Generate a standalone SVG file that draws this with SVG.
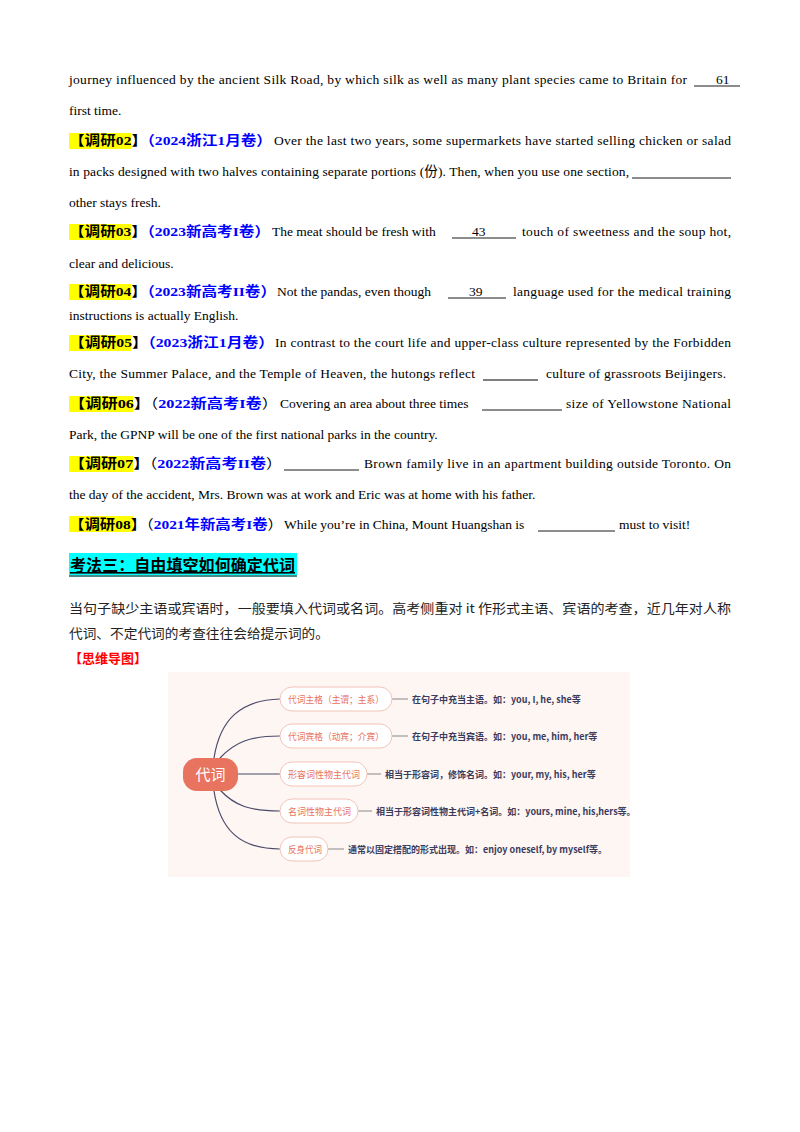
<svg xmlns="http://www.w3.org/2000/svg" width="800" height="1132" viewBox="0 0 800 1132">
<style>
.t{font-family:"Liberation Serif","Noto Sans CJK SC",serif;font-size:13.5px;fill:#000}
.k{font-family:"Liberation Serif","Noto Sans CJK SC",serif;font-size:13.5px;font-weight:bold}
.hl{fill:#ffff00}
.b{fill:#0000ff}
.n{fill:#000;font-weight:normal}
.u{stroke:#000;stroke-width:0.9}
.cn{font-family:"Noto Sans CJK SC",sans-serif;font-size:13px;fill:#222}
.pill{fill:#fff;stroke:#f3c4b8;stroke-width:1}
.pt{font-family:"Noto Sans CJK SC",sans-serif;font-size:9.5px;fill:#e8735f}
.dt{font-family:"Noto Sans CJK SC",sans-serif;font-size:9px;font-weight:bold;fill:#3b3b5c}
.ln{fill:none;stroke:#4a4a6a;stroke-width:1.2}
.sh{stroke:#888;stroke-width:1}
</style>
<rect width="800" height="1132" fill="#fff"/>
<g id="text-body">
<text class="t" x="69" y="84" textLength="618" lengthAdjust="spacing">journey influenced by the ancient Silk Road, by which silk as well as many plant species came to Britain for</text>
<line class="u" x1="694" y1="86" x2="740" y2="86"/>
<text class="t" x="716" y="84">61</text>
<text class="t" x="69" y="115">first time.</text>

<rect class="hl" x="69" y="133" width="62" height="16"/>
<text class="k" x="69" y="145" textLength="203" lengthAdjust="spacingAndGlyphs"><tspan>【调研02】</tspan><tspan class="b">（2024浙江1月卷）</tspan></text>
<text class="t" x="274" y="145" textLength="457" lengthAdjust="spacing">Over the last two years, some supermarkets have started selling chicken or salad</text>
<text class="t" x="69" y="176" textLength="560" lengthAdjust="spacing">in packs designed with two halves containing separate portions (份). Then, when you use one section,</text>
<line class="u" x1="632" y1="178" x2="731" y2="178"/>
<text class="t" x="69" y="207">other stays fresh.</text>

<rect class="hl" x="69" y="224" width="62" height="16"/>
<text class="k" x="69" y="236" textLength="201" lengthAdjust="spacingAndGlyphs"><tspan>【调研03】</tspan><tspan class="b">（2023新高考I卷）</tspan></text>
<text class="t" x="272" y="236">The meat should be fresh with</text>
<line class="u" x1="452" y1="238" x2="516" y2="238"/>
<text class="t" x="472" y="236">43</text>
<text class="t" x="522" y="236" textLength="209" lengthAdjust="spacing">touch of sweetness and the soup hot,</text>
<text class="t" x="69" y="268">clear and delicious.</text>

<rect class="hl" x="69" y="284" width="62" height="16"/>
<text class="k" x="69" y="296" textLength="207" lengthAdjust="spacingAndGlyphs"><tspan>【调研04】</tspan><tspan class="b">（2023新高考II卷）</tspan></text>
<text class="t" x="277" y="296">Not the pandas, even though</text>
<line class="u" x1="448" y1="298" x2="506" y2="298"/>
<text class="t" x="469" y="296">39</text>
<text class="t" x="513" y="296" textLength="218" lengthAdjust="spacing">language used for the medical training</text>
<text class="t" x="69" y="320">instructions is actually English.</text>

<rect class="hl" x="69" y="335" width="62" height="16"/>
<text class="k" x="69" y="347" textLength="205" lengthAdjust="spacingAndGlyphs"><tspan>【调研05】</tspan><tspan class="b">（2023浙江1月卷）</tspan></text>
<text class="t" x="275" y="347" textLength="456" lengthAdjust="spacing">In contrast to the court life and upper-class culture represented by the Forbidden</text>
<text class="t" x="69" y="378" textLength="406" lengthAdjust="spacing">City, the Summer Palace, and the Temple of Heaven, the hutongs reflect</text>
<line x1="483" y1="380" x2="538" y2="380" stroke="#000" stroke-width="1.2"/>
<text class="t" x="546" y="378" textLength="180" lengthAdjust="spacing">culture of grassroots Beijingers.</text>

<rect class="hl" x="69" y="396" width="64" height="16"/>
<text class="k" x="69" y="408" textLength="209" lengthAdjust="spacingAndGlyphs"><tspan>【调研06】</tspan><tspan class="n">（</tspan><tspan class="b">2022新高考I卷</tspan><tspan class="n">）</tspan></text>
<text class="t" x="280" y="408">Covering an area about three times</text>
<line class="u" x1="482" y1="410" x2="562" y2="410"/>
<text class="t" x="566" y="408" textLength="165" lengthAdjust="spacing">size of Yellowstone National</text>
<text class="t" x="69" y="439">Park, the GPNP will be one of the first national parks in the country.</text>

<rect class="hl" x="69" y="456" width="64" height="16"/>
<text class="k" x="69" y="468" textLength="213" lengthAdjust="spacingAndGlyphs"><tspan>【调研07】</tspan><tspan class="n">（</tspan><tspan class="b">2022新高考II卷</tspan><tspan class="n">）</tspan></text>
<line class="u" x1="284" y1="470" x2="359" y2="470"/>
<text class="t" x="364" y="468" textLength="367" lengthAdjust="spacing">Brown family live in an apartment building outside Toronto. On</text>
<text class="t" x="69" y="499">the day of the accident, Mrs. Brown was at work and Eric was at home with his father.</text>

<rect class="hl" x="69" y="516" width="64" height="16"/>
<text class="k" x="69" y="529" textLength="214" lengthAdjust="spacingAndGlyphs"><tspan>【调研08】</tspan><tspan class="n">（</tspan><tspan class="b">2021年新高考I卷</tspan><tspan class="n">）</tspan></text>
<text class="t" x="284" y="529">While you’re in China, Mount Huangshan is</text>
<line class="u" x1="538" y1="531" x2="615" y2="531"/>
<text class="t" x="619" y="529">must to visit!</text>
</g>
<g id="heading">
<rect x="69" y="553" width="228" height="24" fill="#00ffff"/>
<rect x="69" y="575" width="228" height="2" fill="#4a8a8a"/>
<text x="70" y="571" font-family="Noto Sans CJK SC,sans-serif" font-size="16" font-weight="bold" text-decoration="underline" fill="#000" textLength="225" lengthAdjust="spacingAndGlyphs">考法三：自由填空如何确定代词</text>
<text class="cn" x="69" y="613" textLength="662" lengthAdjust="spacingAndGlyphs">当句子缺少主语或宾语时，一般要填入代词或名词。高考侧重对 it 作形式主语、宾语的考查，近几年对人称</text>
<text class="cn" x="69" y="638" textLength="260" lengthAdjust="spacingAndGlyphs">代词、不定代词的考查往往会给提示词的。</text>
<text x="69" y="663" font-family="Noto Sans CJK SC,sans-serif" font-size="13" font-weight="bold" fill="#ff0000">【思维导图】</text>
</g>
<rect x="168" y="672" width="462" height="205" fill="#fdf6f3"/>
<g id="connectors">
<path class="ln" d="M214 758 C220 720 240 700 280 699"/>
<path class="ln" d="M220 758 C235 742 250 736 280 736"/>
<path class="ln" d="M238 774 L280 774"/>
<path class="ln" d="M220 790 C235 806 250 811 280 811"/>
<path class="ln" d="M214 791 C220 830 240 849 280 849"/>
<line class="sh" x1="392" y1="699" x2="408" y2="699"/>
<line class="sh" x1="392" y1="736" x2="408" y2="736"/>
<line class="sh" x1="367" y1="774" x2="381" y2="774"/>
<line class="sh" x1="358" y1="811" x2="372" y2="811"/>
<line class="sh" x1="328" y1="849" x2="344" y2="849"/>
</g>
<g id="n-center"><rect x="183" y="758" width="55" height="33" rx="14" fill="#e8735f"/><text x="210.5" y="780" text-anchor="middle" font-family="Noto Sans CJK SC,sans-serif" font-size="15" fill="#fff">代词</text></g>
<g id="n1"><rect class="pill" x="280" y="687" width="112" height="24" rx="12"/><text class="pt" x="288" y="703" textLength="96" lengthAdjust="spacingAndGlyphs">代词主格（主谓；主系）</text><text class="dt" x="412" y="703">在句子中充当主语。如：you, I, he, she等</text></g>
<g id="n2"><rect class="pill" x="280" y="724" width="112" height="24" rx="12"/><text class="pt" x="288" y="740" textLength="96" lengthAdjust="spacingAndGlyphs">代词宾格（动宾；介宾）</text><text class="dt" x="412" y="740">在句子中充当宾语。如：you, me, him, her等</text></g>
<g id="n3"><rect class="pill" x="280" y="762" width="87" height="24" rx="12"/><text class="pt" x="288" y="778" textLength="72" lengthAdjust="spacingAndGlyphs">形容词性物主代词</text><text class="dt" x="385" y="778">相当于形容词，修饰名词。如：your, my, his, her等</text></g>
<g id="n4"><rect class="pill" x="280" y="799" width="78" height="24" rx="12"/><text class="pt" x="288" y="815" textLength="63" lengthAdjust="spacingAndGlyphs">名词性物主代词</text><text class="dt" x="376" y="815">相当于形容词性物主代词+名词。如：yours, mine, his,hers等。</text></g>
<g id="n5"><rect class="pill" x="280" y="837" width="48" height="24" rx="12"/><text class="pt" x="288" y="853" textLength="34" lengthAdjust="spacingAndGlyphs">反身代词</text><text class="dt" x="348" y="853">通常以固定搭配的形式出现。如：enjoy oneself, by myself等。</text></g>
</svg>
